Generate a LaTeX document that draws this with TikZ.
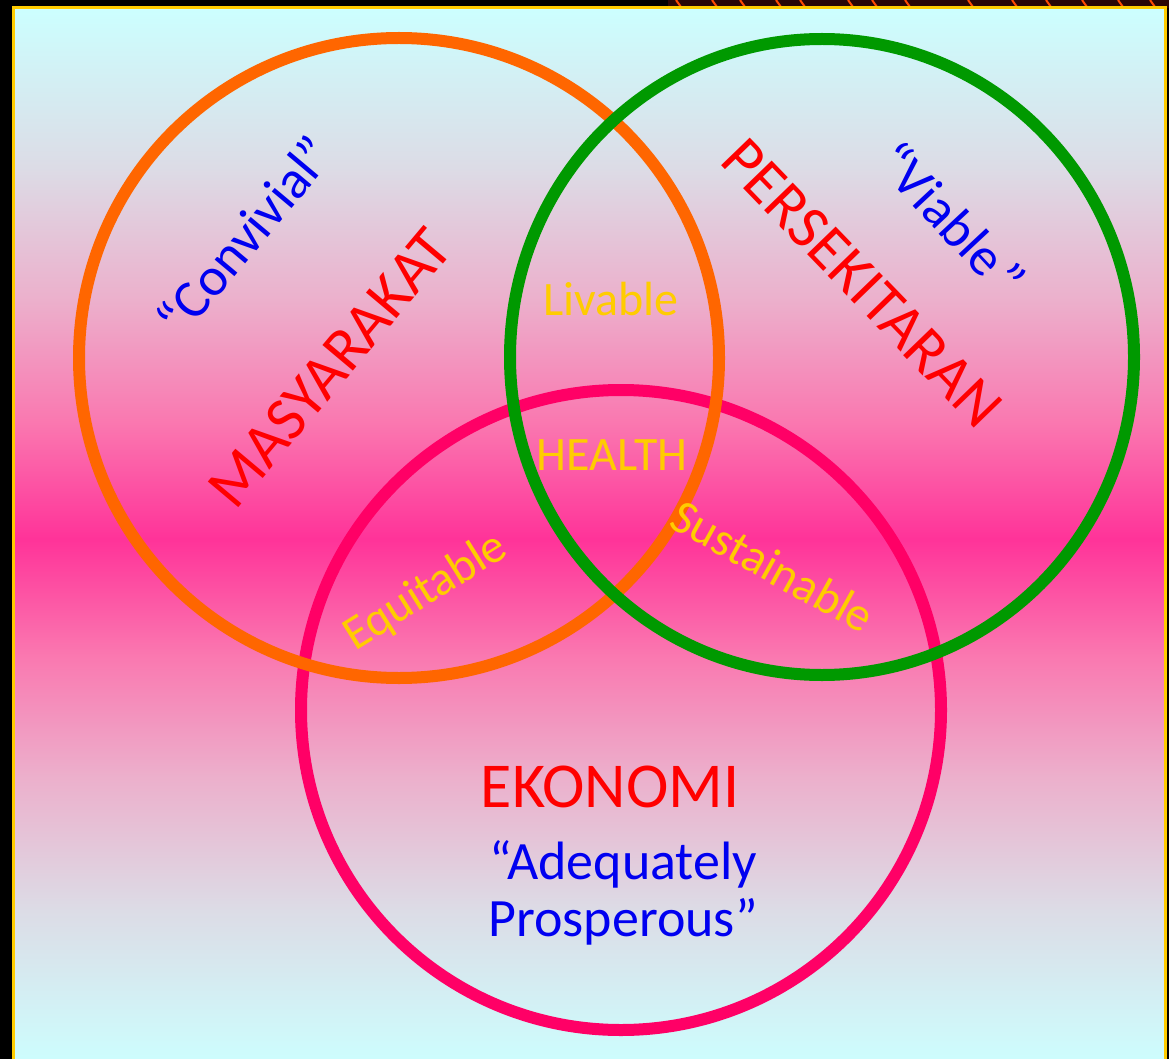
\documentclass[tikz,border=0pt]{standalone}
\usepackage{fontspec}
\setmainfont{Carlito}
\definecolor{bgcyan}{HTML}{CCFFFF}
\definecolor{bglav}{HTML}{DCDCE6}
\definecolor{bgrose}{HTML}{ECB0CC}
\definecolor{bghot}{HTML}{FA78B0}
\definecolor{bgpink}{HTML}{FF3399}
\definecolor{frameyel}{HTML}{FFCC00}
\definecolor{flame}{HTML}{2A0606}
\definecolor{flameline}{HTML}{FF4A00}
\definecolor{masorange}{HTML}{FF6600}
\definecolor{pergreen}{HTML}{009900}
\definecolor{ekopink}{HTML}{FF0066}
\definecolor{lblred}{HTML}{FF0000}
\definecolor{lblblue}{HTML}{0000F0}
\definecolor{lblgold}{HTML}{FFCC00}
\pgfdeclareverticalshading{bgshade}{100bp}{color(0bp)=(bgcyan); color(25bp)=(bgcyan);
  color(32.5bp)=(bglav); color(38.75bp)=(bgrose); color(44.5bp)=(bghot); color(50bp)=(bgpink);
  color(55.5bp)=(bghot); color(61.25bp)=(bgrose); color(67.5bp)=(bglav); color(75bp)=(bgcyan);
  color(100bp)=(bgcyan)}
\begin{document}
\begin{tikzpicture}[x=1pt,y=-1pt,
    ring/.style={line width=12pt},
    biglbl/.style={text=lblred, font=\fontsize{62}{66}\selectfont},
    quotelbl/.style={text=lblblue, font=\fontsize{54}{57}\selectfont},
    meetlbl/.style={text=lblgold, font=\fontsize{48}{52}\selectfont}]
  \useasboundingbox (0,0) rectangle (1169,1059);
  % frame
  \fill[black] (0,0) rectangle (1169,1059);
  \fill[flame] (668,0) rectangle (1169,8);
  \foreach \fx in {676,712,740,776,800,848,872,905,968,1012,1046,1082,1118,1150}
    \draw[flameline, line width=2pt] (\fx,0) -- (\fx+5,7);
  \shadedraw[shading=bgshade, draw=frameyel, line width=3pt] (13.5,7.5) rectangle (1165.5,1070);

  % rings
  \coordinate (cEko) at (621,710);
  \coordinate (cMas) at (399,358);
  \coordinate (cPer) at (822,357);
  \draw[ring, draw=ekopink]   (cEko) circle [radius=320pt];
  \draw[ring, draw=masorange] (cMas) circle [radius=320pt];
  \draw[ring, draw=pergreen]  (cPer) circle [x radius=312pt, y radius=318pt];

  % labels
  \node[quotelbl, rotate=50]  (conv) at (244,236) {“Convivial”};
  \node[biglbl, rotate=50]    (mas)  at (330,368) {MASYARAKAT};
  \node[biglbl, rotate=-46]   (per)  at (862,283) {PERSEKITARAN};
  \node[quotelbl, rotate=-47] (viab) at (952,219) {“Viable\hspace{0.1em}”};
  \node[meetlbl] (liv) at (611,299) {Livable};
  \node[meetlbl] (hea) at (612,455) {HEALTH};
  \node[meetlbl, rotate=32]  (equ) at (426,592) {Equitable};
  \node[meetlbl, rotate=-29] (sus) at (773,566) {Sustainable};
  \node[biglbl, font=\fontsize{64}{66}\selectfont] (eko) at (610,787) {EKONOMI};
  \node[quotelbl, align=center] (pros) at (623,893) {“Adequately\\Prosperous”};
\end{tikzpicture}
\end{document}
